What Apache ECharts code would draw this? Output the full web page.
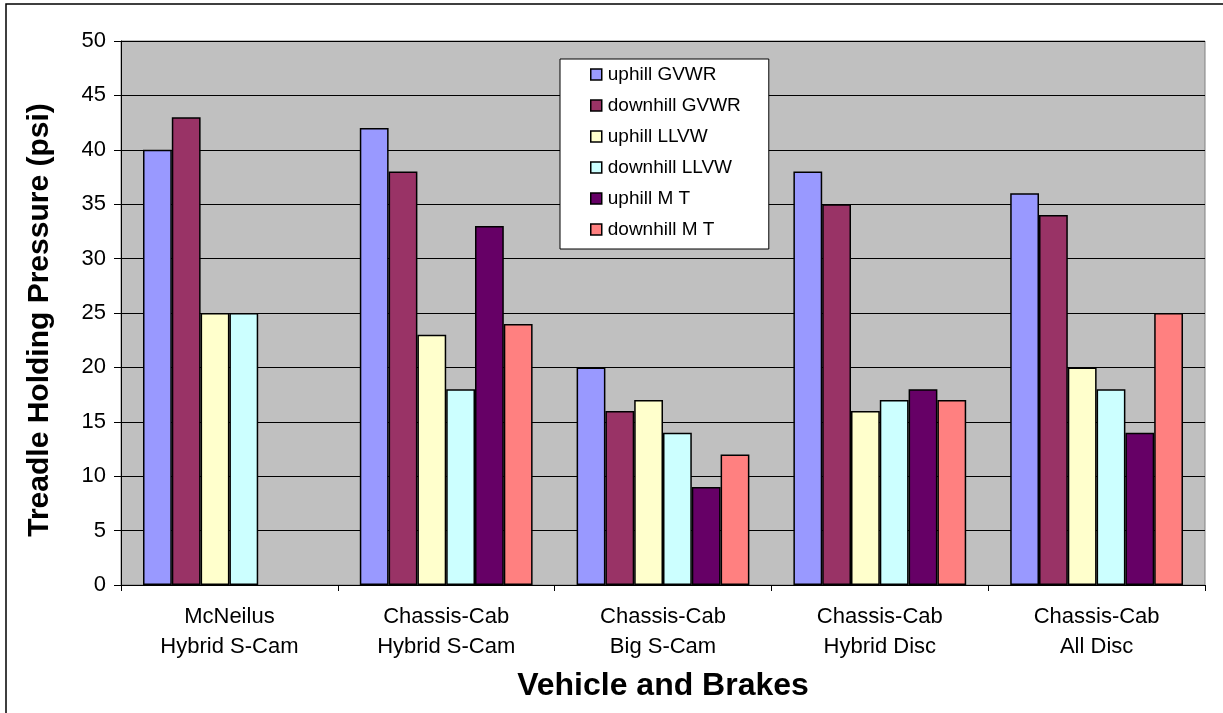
<!DOCTYPE html>
<html>
<head>
<meta charset="utf-8">
<script src="https://cdn.jsdelivr.net/npm/echarts@6/dist/echarts.min.js"></script>
<style>
  html, body { margin: 0; padding: 0; background: #fff; }
  #chart { width: 1223px; height: 713px; }
</style>
</head>
<body>
<div id="chart"></div>
<script>
// Vehicle / brake configurations
const categories = [
  'McNeilus\nHybrid S-Cam',
  'Chassis-Cab\nHybrid S-Cam',
  'Chassis-Cab\nBig S-Cam',
  'Chassis-Cab\nHybrid Disc',
  'Chassis-Cab\nAll Disc'
];

// Treadle holding pressure (psi) per test condition
const uphillGVWR   = [40, 42, 20, 38, 36];
const downhillGVWR = [43, 38, 16, 35, 34];
const uphillLLVW   = [25, 23, 17, 16, 20];
const downhillLLVW = [25, 18, 14, 17, 18];
const uphillMT     = [null, 33, 9, 18, 14];
const downhillMT   = [null, 24, 12, 17, 25];

const seriesNames  = ['uphill GVWR', 'downhill GVWR', 'uphill LLVW', 'downhill LLVW', 'uphill M T', 'downhill M T'];
const seriesValues = [uphillGVWR, downhillGVWR, uphillLLVW, downhillLLVW, uphillMT, downhillMT];
const seriesColors = ['#9999FF', '#993366', '#FFFFCC', '#CCFFFF', '#660066', '#FF8080'];

const FONT = '"Liberation Sans", Arial, sans-serif';

const chart = echarts.init(document.getElementById('chart'), null, { renderer: 'canvas' });

chart.setOption({
  backgroundColor: '#fff',
  animation: false,
  textStyle: { fontFamily: FONT },
  grid: {
    left: 121, right: 18, top: 41, bottom: 128,
    show: true,
    backgroundColor: '#C0C0C0',
    borderColor: '#808080',
    borderWidth: 1
  },
  legend: {
    orient: 'vertical',
    left: 560, top: 59,
    padding: [6, 28, 10, 30],
    itemGap: 12,
    itemWidth: 11, itemHeight: 11,
    icon: 'rect',
    backgroundColor: '#fff',
    borderColor: '#000',
    borderWidth: 1,
    itemStyle: { borderColor: '#000', borderWidth: 1.5 },
    textStyle: { fontFamily: FONT, fontSize: 19, color: '#000', lineHeight: 19, padding: [0, 0, 0, 1] },
    data: seriesNames
  },
  xAxis: {
    type: 'category',
    data: categories,
    axisLine: { show: true, lineStyle: { color: '#000', width: 1 } },
    axisTick: { show: true, alignWithLabel: false, length: 6, lineStyle: { color: '#000' } },
    axisLabel: {
      fontFamily: FONT, fontSize: 22, color: '#000',
      lineHeight: 30, margin: 17, interval: 0
    },
    splitLine: { show: false }
  },
  yAxis: {
    type: 'value',
    min: 0, max: 50, interval: 5,
    axisLine: { show: true, lineStyle: { color: '#000', width: 1 } },
    axisTick: { show: true, length: 7, lineStyle: { color: '#000' } },
    axisLabel: { fontFamily: FONT, fontSize: 22, color: '#000', margin: 15 },
    splitLine: { show: true, lineStyle: { color: '#000', width: 1 } }
  },
  series: seriesNames.map((name, i) => ({
    name,
    type: 'bar',
    data: seriesValues[i],
    barGap: '0%',
    barCategoryGap: '20.3%',
    itemStyle: { color: seriesColors[i], borderColor: '#000', borderWidth: 1.5 }
  })),
  graphic: [
    {
      type: 'rect',
      shape: { x: 6, y: 4, width: 1240, height: 730 },
      style: { fill: 'none', stroke: '#000', lineWidth: 1.5 },
      z: 100, silent: true
    },
    {
      type: 'text',
      x: 40, y: 320,
      rotation: Math.PI / 2,
      style: {
        text: 'Treadle Holding Pressure (psi)',
        fontFamily: FONT, fontSize: 30, fontWeight: 'bold',
        fill: '#000', align: 'center', verticalAlign: 'middle'
      }
    },
    {
      type: 'text',
      x: 663, y: 686,
      style: {
        text: 'Vehicle and Brakes',
        fontFamily: FONT, fontSize: 32, fontWeight: 'bold',
        fill: '#000', align: 'center', verticalAlign: 'middle'
      }
    }
  ]
});
</script>
</body>
</html>
